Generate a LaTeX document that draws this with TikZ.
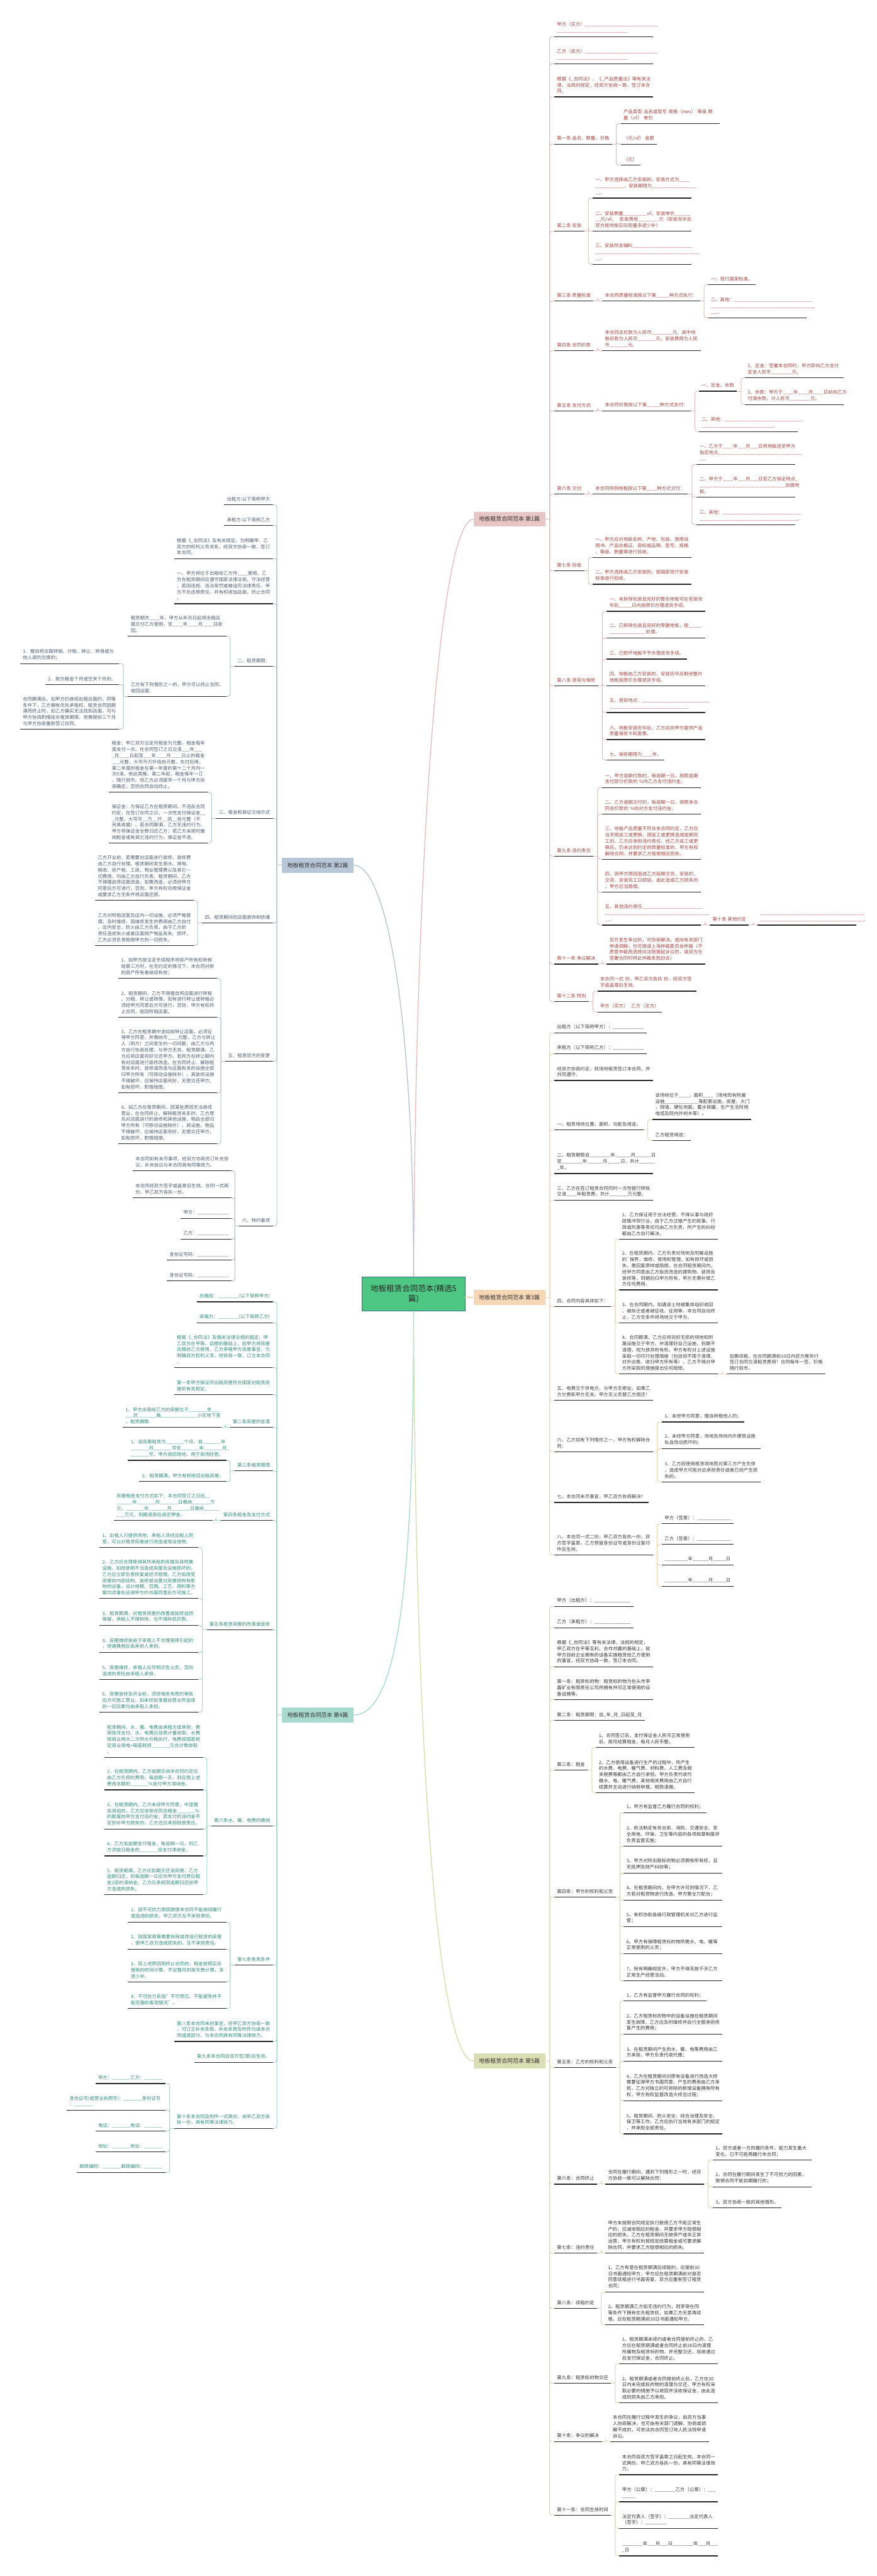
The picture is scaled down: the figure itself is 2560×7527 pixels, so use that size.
\documentclass[tikz,border=0pt]{standalone}
\usepackage{fontspec}
\setmainfont{Noto Sans CJK SC}

\definecolor{B1line}{HTML}{E5BABA}
\definecolor{B1fill}{HTML}{E9C6C6}
\definecolor{B1text}{HTML}{A2433D}
\definecolor{B2line}{HTML}{B3C2D3}
\definecolor{B2fill}{HTML}{B8C7D8}
\definecolor{B2text}{HTML}{4B5B6E}
\definecolor{B3line}{HTML}{F2D2AE}
\definecolor{B3fill}{HTML}{F6D7B5}
\definecolor{B3text}{HTML}{3C3C3C}
\definecolor{B4line}{HTML}{A3D7CA}
\definecolor{B4fill}{HTML}{A9DACE}
\definecolor{B4text}{HTML}{2F8A78}
\definecolor{B5line}{HTML}{D5DBAA}
\definecolor{B5fill}{HTML}{DADFB3}
\definecolor{B5text}{HTML}{333333}
\definecolor{RootFill}{HTML}{4FC784}
\definecolor{RootDraw}{HTML}{2E6D8E}

% a row of underscores (blank to be filled in)
\newcount\uscount
\newcommand\us[1]{\uscount=#1\relax\loop\ifnum\uscount>0 \textunderscore\advance\uscount by -1 \repeat}

\begin{document}
\begin{tikzpicture}
	[
		x=1pt, y=-1pt,
		conn/.style={draw=#1, line width=1.8pt, rounded corners=7pt},
		trunk/.style={draw=#1, line width=2.4pt},
	]
	
	\tikzstyle{Leaf} = [
		inner xsep=8pt,
		inner ysep=10pt,
		align=left,
		font=\fontsize{13.6}{18}\selectfont,
		append after command={(\tikzlastnode.south west) edge[draw=black!85, line width=2.2pt] (\tikzlastnode.south east)}
	]
	\tikzstyle{LeafR} = [Leaf, anchor=south west]
	\tikzstyle{LeafL} = [Leaf, anchor=south east]
	\tikzstyle{WideR} = [LeafR, text width=272pt]
	\tikzstyle{WideL} = [LeafL, text width=272pt]
	\tikzstyle{Part} = [
		rectangle,
		minimum width=210pt,
		minimum height=44pt,
		inner sep=0pt,
		text=black!80,
		font=\fontsize{16.5}{20}\selectfont
	]
	\tikzstyle{Root} = [
		rectangle,
		minimum width=300pt,
		minimum height=99pt,
		align=center,
		draw=RootDraw,
		line width=1.5pt,
		fill=RootFill,
		text=black!85,
		font=\fontsize{23}{30}\selectfont
	]
	
	\useasboundingbox (0,0) rectangle (2560,7527);
	\fill[white] (0,0) rectangle (2560,7527);
	
	% centre and the five parts
	\node [Root] (root) at (1208,3781) {地板租赁合同范本(精选5\\篇)};
	\node [Part, fill=B1fill] (p1) at (1488,1517) {地板租赁合同范本 第1篇};
	\node [Part, fill=B2fill] (p2) at (928,2528) {地板租赁合同范本 第2篇};
	\node [Part, fill=B3fill] (p3) at (1488,3791) {地板租赁合同范本 第3篇};
	\node [Part, fill=B4fill] (p4) at (928,5011) {地板租赁合同范本 第4篇};
	\node [Part, fill=B5fill] (p5) at (1488,6022) {地板租赁合同范本 第5篇};
	
	\draw[trunk=B1line] (root.north) .. controls (1215,2400) and (1290,1517) .. (p1.west);
	\draw[trunk=B2line] (root.north) .. controls (1208,2900) and (1120,2528) .. (p2.east);
	\draw[trunk=B3line] (root.east |- p3.west) -- (p3.west);
	\draw[trunk=B4line] (root.south) .. controls (1208,4500) and (1180,5011) .. (p4.east);
	\draw[trunk=B5line] (root.south) .. controls (1215,5300) and (1290,6022) .. (p5.west);
	
	% ---------------- part 1 ----------------
	\begin{scope}[text=B1text]
	\node [WideR] (b1a) at (1619,107) {甲方（买方）\us{28}\\\us{27}};
	\node [WideR] (b1b) at (1619,186) {乙方（卖方）\us{28}\\\us{27}};
	\node [WideR] (b1c) at (1619,283) {根据《\us{1}合同法》、《\us{1}产品质量法》等有关法\\律、法规的规定，经双方协商一致，签订本合\\同。};
	\node [LeafR] (b1d) at (1619,421) {第一条~品名、数量、价格};
	\node [WideR] (b1d1) at (1813,361) {产品类型~品名或型号~规格（mm）~等级~数\\量（㎡）~单价};
	\node [LeafR] (b1d2) at (1813,421) {（元/㎡）~金额};
	\node [LeafR] (b1d3) at (1813,483) {（元）};
	\node [LeafR] (b1e) at (1619,676) {第二条~安装};
	\node [WideR] (b1e1) at (1731,579) {一、甲方选择由乙方安装的，安装方式为\us{4}\\\us{11}，安装期限为\us{17}\\\us{2}.};
	\node [WideR] (b1e2) at (1731,676) {二、安装数量\us{9}㎡，安装单价\us{6}\\\us{2}元/㎡，~~安装费用\us{8}元（安装完毕后\\双方按地板实际用量多退少补）};
	\node [WideR] (b1e3) at (1731,772) {三、安装所含辅料\us{23}\\\us{40}\\\us{2}.};
	\node [LeafR] (b1f) at (1619,880) {第三条~质量标准};
	\node [LeafR] (b1f0) at (1759,880) {本合同质量标准按以下第\us{5}种方式执行：};
	\node [LeafR] (b1f1) at (2068,832) {一、现行国家标准。};
	\node [WideR] (b1f2) at (2068,929) {二、其他：\us{30}\\\us{40}\\\us{3}.};
	\node [LeafR] (b1g) at (1619,1025) {第四条~合同价款};
	\node [WideR] (b1g0) at (1759,1025) {本合同总价款为人民币\us{8}元，其中地\\板价款为人民币\us{7}元，安装费用为人民\\币\us{7}元。};
	\node [LeafR] (b1h) at (1619,1201) {第五条~支付方式};
	\node [LeafR] (b1h0) at (1759,1201) {本合同价款按以下第\us{5}种方式支付：};
	\node [LeafR] (b1h1) at (2041,1143) {一、定金、余款};
	\node [WideR] (b1h1a) at (2176,1104) {1、定金：签署本合同时，甲方即向乙方支付\\定金人民币\us{8}元。};
	\node [WideR] (b1h1b) at (2176,1182) {2、余款：甲方于\us{4}年\us{4}月\us{4}日前向乙方\\付清余款，计人民币\us{8}元。};
	\node [WideR] (b1h2) at (2041,1261) {二、其他：\us{30}\\\us{28}.};
	\node [LeafR] (b1i) at (1619,1444) {第六条~交付};
	\node [LeafR] (b1i0) at (1731,1444) {本合同所购地板按以下第\us{4}种方式交付：};
	\node [WideR] (b1i1) at (2035,1357) {一、乙方于\us{4}年\us{3}月\us{3}日将地板送至甲方\\指定地点\us{32}\\\us{2}.};
	\node [WideR] (b1i2) at (2035,1453) {二、甲方于\us{4}年\us{3}月\us{3}日至乙方指定地点\us{1}\\\us{33}自提地\\板。};
	\node [WideR] (b1i3) at (2035,1533) {三、其他：\us{30}\\\us{38}.};
	\node [LeafR] (b1j) at (1619,1668) {第七条~验收};
	\node [WideR] (b1j1) at (1731,1629) {一、甲方应对地板名称、产地、包装、使用说\\明书、产品合格证、商标或品牌、型号、规格\\、等级、数量等进行验收。};
	\node [WideR] (b1j2) at (1731,1707) {二、甲方选择由乙方安装的，按国家现行安装\\标准进行验收。};
	\node [LeafR] (b1k) at (1619,2004) {第八条~退货与保修};
	\node [WideR] (b1k1) at (1772,1786) {一、未拆除包装且完好的整包地板可在安装完\\毕后\us{5}日内按原价办理退货手续。};
	\node [WideR] (b1k2) at (1772,1864) {二、已拆除包装且完好的零散地板，按\us{5}\\\us{14}处理。};
	\node [LeafR] (b1k3) at (1772,1926) {三、已损坏地板不予办理退货手续。};
	\node [WideR] (b1k4) at (1772,2004) {四、地板由乙方安装的，安装完毕后剩余整片\\地板按原价办理退货手续。};
	\node [WideR] (b1k5) at (1772,2082) {五、退货地点：\us{26}\\\us{30}.};
	\node [WideR] (b1k6) at (1772,2161) {六、地板安装完毕后，乙方应向甲方提供产品\\质量保修卡和发票。};
	\node [LeafR] (b1k7) at (1772,2221) {七、保修期限为\us{4}年。};
	\node [LeafR] (b1l) at (1619,2502) {第九条~违约责任};
	\node [WideR] (b1l1) at (1759,2301) {一、甲方逾期付款的，每逾期一日，按照逾期\\支付部分价款的~\%向乙方支付违约金。};
	\node [WideR] (b1l2) at (1759,2379) {二、乙方逾期交付的，每逾期一日，按照本合\\同总价款的~\%向对方支付违约金。};
	\node [WideR] (b1l3) at (1759,2511) {三、地板产品质量不符合本合同约定，乙方应\\当无偿返工或更换，因返工或更换造成逾期完\\工的，乙方应承担违约责任。经乙方返工或更\\换后，仍未达到约定的质量标准的，甲方有权\\解除合同，并要求乙方赔偿相应损失。};
	\node [WideR] (b1l4) at (1759,2607) {四、因甲方原因造成乙方延期交货、安装的，\\交货、安装完工日顺延，由此造成乙方损失的\\，甲方应当赔偿。};
	\node [WideR] (b1l5) at (1759,2703) {五、其他违约责任\us{23}\\\us{40}\\\us{2}.};
	\node [LeafR] (b1m) at (2073,2703) {第十条~其他约定};
	\node [WideR] (b1m1) at (2212,2703) {\us{40}\\\us{40}.};
	\node [LeafR] (b1n) at (1619,2817) {第十一条~争议解决};
	\node [WideR] (b1n1) at (1772,2817) {双方发生争议的，可协商解决，或向有关部门\\申请调解；也可提请上海仲裁委员会仲裁（不\\愿意仲裁而选择向法院提起诉讼的，请双方在\\签署合同时将此仲裁条款划去）};
	\node [LeafR] (b1o) at (1619,2927) {第十二条~附则};
	\node [WideR] (b1o1) at (1745,2896) {本合同一式~份，甲乙双方各执~份，经双方签\\字或盖章后生效。};
	\node [LeafR] (b1o2) at (1745,2957) {甲方（买方）~~~乙方（买方）};
	\end{scope}
	
	\draw[conn=B1line] (p1.east) -- ++(12,0) coordinate (p1s);
	\foreach \ch in {b1a,b1b,b1c,b1d,b1e,b1f,b1g,b1h,b1i,b1j,b1k,b1l,b1n,b1o}
		\draw[conn=B1line] (p1s) |- (\ch.south west);
	\foreach \p/\kids in {b1d/{b1d1,b1d2,b1d3},b1e/{b1e1,b1e2,b1e3},
		b1f/{b1f0},b1f0/{b1f1,b1f2},b1g/{b1g0},
		b1h/{b1h0},b1h0/{b1h1,b1h2},b1h1/{b1h1a,b1h1b},
		b1i/{b1i0},b1i0/{b1i1,b1i2,b1i3},b1j/{b1j1,b1j2},
		b1k/{b1k1,b1k2,b1k3,b1k4,b1k5,b1k6,b1k7},
		b1l/{b1l1,b1l2,b1l3,b1l4,b1l5},b1l5/{b1m},b1m/{b1m1},
		b1n/{b1n1},b1o/{b1o1,b1o2}}
	{
		\draw[conn=B1line] (\p.south east) -- ++(12,0) coordinate (\p s);
		\foreach \ch in \kids
			\draw[conn=B1line] (\p s) |- (\ch.south west);
	}
	
	% ---------------- part 2 ----------------
	\begin{scope}[text=B2text]
	\node [LeafL] (b2a) at (797,1475) {出租方:以下简称甲方};
	\node [LeafL] (b2b) at (797,1535) {承租方:以下简称乙方};
	\node [WideL] (b2c) at (797,1632) {根据《\us{1}合同法》及有关规定，为明确甲、乙\\双方的权利义务关系，经双方协商一致，签订\\本合同。};
	\node [WideL] (b2d) at (797,1764) {一、甲方将位于出租给乙方作\us{4}使用。乙\\方在租赁期间应遵守国家法律法规，守法经营\\。若因违规、违法受罚或被追究法律责任，甲\\方不负连带责任，并有权收加店面，终止合同\\。};
	\node [LeafL] (b2e) at (797,1947) {二、租赁期限：};
	\node [WideL] (b2e1) at (662,1859) {租赁期共\us{4}年，甲方从年月日起将出租店\\面交付乙方使用，至\us{4}年\us{4}月\us{4}日收\\回。};
	\node [WideL] (b2e2) at (662,2035) {乙方有下列情形之一的，甲方可以终止合同，\\收回店面：};
	\node [WideL] (b2e2a) at (347,1939) {1．擅自将店面转租、分租、转让、转借或与\\他人调剂交换的；};
	\node [LeafL] (b2e2b) at (347,2000) {2．拖欠租金个月或空关个月的。};
	\node [WideL] (b2e2c) at (347,2131) {合同期满后，如甲方仍继续出租店面的，同等\\条件下，乙方拥有优先承租权。租赁合同因期\\满而终止时，如乙方确实无法找到店面，可与\\甲方协商酌情延长租赁期限，但需提前三个月\\与甲方协商重新签订合同。};
	\node [LeafL] (b2f) at (797,2391) {三、租金和保证交纳方式};
	\node [WideL] (b2f1) at (607,2315) {租金：甲乙双方议定月租金为元整，租金每年\\度支付一次。在合同签订之日交清\us{3}年\us{3}\\\us{1}月\us{4}日起至\us{3}年\us{4}月\us{4}日止的租金\\\us{3}元整，大写币万仟佰拾元整，先付后用。\\第二年度的租金在第一年度的第十二个月内一\\次X清，依此类推。第二年起，租金每年一订\\，随行就市。但乙方必须提早一个月与甲方协\\商确定，否则合同自动终止。};
	\node [WideL] (b2f2) at (607,2464) {保证金：为保证乙方在租赁期间，不违反合同\\约定，在签订合同之日，一次性支付保证金\us{2}\\\us{1}元整，大写币\us{2}万\us{2}仟\us{2}佰\us{2}拾元整（不\\另具收据）。若合同期满，乙方无违约行为，\\甲方将保证金全数归还乙方；若乙方未按时缴\\纳租金或有其它违约行为，保证金不退。};
	\node [LeafL] (b2g) at (797,2697) {四、租赁期间的店面装饰和修缮};
	\node [WideL] (b2g1) at (566,2631) {乙方开业前，若需要对店面进行装修，装修费\\由乙方自行处理。租赁期间发生用水、用电、\\税收、房产税、工商、物业管理费以及其它一\\切费用，均由乙方自行负责。租赁期间，乙方\\不得擅自将店面改造，如需改造，必须经甲方\\同意后方可进行，否则，甲方有权动用保证金\\或要求乙方无条件将店面还原。};
	\node [WideL] (b2g2) at (566,2763) {乙方对所租店面及店内一切设施，必须严格管\\理，及时维修，因维修发生的费用由乙方自付\\。店内安全、防火由乙方负责。由于乙方的\\责任造成失火或者店面财产物品丢失、损坏，\\乙方必须负责赔偿甲方的一切损失。};
	\node [LeafL] (b2h) at (797,3101) {五、租赁双方的变更};
	\node [WideL] (b2h1) at (634,2859) {1．如甲方按法定手续程序将房产所有权转移\\给第三方时，在无约定的情况下，本合同对新\\的房产所有者继续有效；};
	\node [WideL] (b2h2) at (634,2973) {2、租赁期间，乙方不得擅自将店面进行转租\\、分租、转让或转借，如有进行转让或转租必\\须经甲方同意后方可进行，否则，甲方有权终\\止合同，收回所租店面。};
	\node [WideL] (b2h3) at (634,3193) {3、乙方在租赁期中途如欲转让店面，必须征\\得甲方同意，并缴纳币\us{4}元整。乙方与转让\\人（丙方）之间发生的一切问题，由乙方与丙\\方自行协商处理，与甲方无关。租赁期满，乙\\方应将店面完好交还甲方。若丙方在转让期内\\有对店面进行装修改造，在合同终止、解除租\\赁关系时，装修或改造与店面有关的设施全部\\归甲方所有（可移动设施除外）。其装修设施\\不得破坏，应保持店面完好，无偿交还甲方，\\如有损坏，酌情赔偿。};
	\node [WideL] (b2h4) at (634,3342) {4、如乙方在租赁期间，因某些原因无法继续\\营业，在合同终止、解除租赁关系时，乙方原\\先对店面进行的装修和其他设施、物品全部归\\甲方所有（可移动设施除外），其设施、物品\\不得破坏，应保持店面完好，无偿交还甲方，\\如有损坏，酌情赔偿。};
	\node [LeafL] (b2i) at (797,3582) {六、特约事项};
	\node [WideL] (b2i1) at (676,3421) {本合同如有未尽事项，经双方协商另订补充协\\议，补充协议与本合同具有同等效力。};
	\node [WideL] (b2i2) at (676,3500) {本合同经双方签字或盖章后生效。合同一式两\\份，甲乙双方各执一份。};
	\node [LeafL] (b2i3) at (676,3560) {甲方：\us{12}};
	\node [LeafL] (b2i4) at (676,3621) {乙方：\us{12}};
	\node [LeafL] (b2i5) at (676,3682) {身份证号码：\us{12}};
	\node [LeafL] (b2i6) at (676,3743) {身份证号码：\us{12}};
	\end{scope}
	
	\draw[conn=B2line] (p2.west) -- ++(-14,0) coordinate (p2s);
	\foreach \ch in {b2a,b2b,b2c,b2d,b2e,b2f,b2g,b2h,b2i}
		\draw[conn=B2line] (p2s) |- (\ch.south east);
	\foreach \p/\kids in {b2e/{b2e1,b2e2},b2e2/{b2e2a,b2e2b,b2e2c},
		b2f/{b2f1,b2f2},b2g/{b2g1,b2g2},b2h/{b2h1,b2h2,b2h3,b2h4},
		b2i/{b2i1,b2i2,b2i3,b2i4,b2i5,b2i6}}
	{
		\draw[conn=B2line] (\p.south west) -- ++(-13,0) coordinate (\p s);
		\foreach \ch in \kids
			\draw[conn=B2line] (\p s) |- (\ch.south east);
	}
	
	% ---------------- part 3 ----------------
	\begin{scope}[text=B3text]
	\node [LeafR] (b3a) at (1619,3018) {出租方（以下简称甲方）：\us{12}};
	\node [LeafR] (b3b) at (1619,3079) {承租方（以下简称乙方）：\us{12}};
	\node [WideR] (b3c) at (1619,3157) {经双方协商约定，就场地租赁签订本合同，并\\共同遵守。};
	\node [LeafR] (b3d) at (1619,3302) {一、租赁场地位置，面积，功能及用途。};
	\node [WideR] (b3d1) at (1906,3271) {该场地位于\us{4}，面积\us{4}（场地现有附属\\设施\us{13}等配套设施，房屋，大门\\，院墙，硬化地面，蓄水铁罐，生产生活所用\\电缆及院内外树木等）。};
	\node [LeafR] (b3d2) at (1906,3332) {乙方租赁用途：};
	\node [WideR] (b3e) at (1619,3429) {二、租赁期限自\us{8}年\us{6}月\us{6}日\\至\us{8}年\us{6}月\us{5}日，共计\us{6}\\\us{1}年。};
	\node [WideR] (b3f) at (1619,3507) {三、乙方在签订租赁合同同时一次性银行转账\\交清\us{4}年租赁费，共计\us{7}万元整。};
	\node [LeafR] (b3g) at (1619,3818) {四、合同内容具体如下：};
	\node [WideR] (b3g1) at (1809,3621) {1、乙方保证用于合法经营，不得从事与政府\\政策冲突行业。由于乙方过错产生的民事、行\\政或刑事等责任均由乙方负责，所产生的纠纷\\都由乙方自行解决。};
	\node [WideR] (b3g2) at (1809,3769) {2、在租赁期内，乙方负责对场地及附属设施\\的\textasciigrave 保养，维修，使用和管理，如有损坏或损\\失，需回复原样或赔偿。在合同租赁期间内，\\经甲方同意由乙方投资改造的建筑物、装饰及\\装修等，到期后归甲方所有，甲方无需补偿乙\\方任何费用。};
	\node [WideR] (b3g3) at (1809,3866) {3、在合同期内，如遇该土地被集体组织收回\\、被拆迁或者被征收、征用等，本合同自动终\\止，乙方无条件将场地交于甲方。};
	\node [WideR] (b3g4) at (1809,4015) {4、合同期满，乙方应将完好无损的场地和附\\属设施交于甲方，并清理好自己设施，到期不\\清理，视为放弃所有权。甲方有权对上述设施\\采取一切可行处理措施（包括但不限于清理、\\对外出售、收归甲方所有等），乙方不得对甲\\方所采取的措施提出任何赔偿。};
	\node [WideR] (b3g5) at (2123,4015) {如需续租，在合同期满前10日内双方需另行\\签订合同交清租赁费用！合同每年一签，价格\\随行就市。};
	\node [WideR] (b3h) at (1619,4092) {五、电费交于供电方。与甲方无牵扯。如果乙\\方欠费和甲方无关。甲方无义务替乙方偿还！};
	\node [WideR] (b3i) at (1619,4242) {六、乙方如有下列情形之一，甲方有权解除合\\同：};
	\node [LeafR] (b3i1) at (1933,4155) {1、未经甲方同意，擅自转租他人的；};
	\node [WideR] (b3i2) at (1933,4233) {2、未经甲方同意，场地及场地内外建筑设施\\私自改动损坏的；};
	\node [WideR] (b3i3) at (1933,4330) {3、乙方因使用租赁场地而对第三方产生负债\\，造成甲方可能对此承担责任或者已经产生损\\失的。};
	\node [LeafR] (b3j) at (1619,4390) {七、本合同未尽事宜，甲乙双方协商解决！};
	\node [WideR] (b3k) at (1619,4543) {八、本合同一式二份。甲乙双方各执一份，双\\方签字盖章，乙方预留身份证号或身份证复印\\件后生效。};
	\node [LeafR] (b3k1) at (1933,4452) {甲方（签章）：\us{13}};
	\node [LeafR] (b3k2) at (1933,4513) {乙方（签章）：\us{13}};
	\node [LeafR] (b3k3) at (1933,4573) {\us{9}年\us{6}月\us{5}日};
	\node [LeafR] (b3k4) at (1933,4635) {\us{9}年\us{6}月\us{5}日};
	\end{scope}
	
	\draw[conn=B3line] (p3.east) -- ++(12,0) coordinate (p3s);
	\foreach \ch in {b3a,b3b,b3c,b3d,b3e,b3f,b3g,b3h,b3i,b3j,b3k}
		\draw[conn=B3line] (p3s) |- (\ch.south west);
	\foreach \p/\kids in {b3d/{b3d1,b3d2},b3g/{b3g1,b3g2,b3g3,b3g4},b3g4/{b3g5},
		b3i/{b3i1,b3i2,b3i3},b3k/{b3k1,b3k2,b3k3,b3k4}}
	{
		\draw[conn=B3line] (\p.south east) -- ++(12,0) coordinate (\p s);
		\foreach \ch in \kids
			\draw[conn=B3line] (\p s) |- (\ch.south west);
	}
	
	% ---------------- part 4 ----------------
	\begin{scope}[text=B4text]
	\node [LeafL] (b4a) at (797,3804) {出租房：\us{8}(以下简称甲方)};
	\node [LeafL] (b4b) at (797,3865) {承租方：\us{8}(以下简称乙方)};
	\node [WideL] (b4c) at (797,3996) {根据《\us{1}合同法》及相关法律法规的固定，甲\\乙双方在平等、自愿的基础上，就甲方将房屋\\出租给乙方使用，乙方承租甲方房屋事宜，为\\明确双方权利义务，经协商一致，订立本合同\\。};
	\node [WideL] (b4d) at (797,4075) {第一条甲方保证所出租房屋符合国家对租赁房\\屋的有关规定。};
	\node [LeafL] (b4e) at (797,4171) {第二条房屋的坐落};
	\node [WideL] (b4e1) at (647,4171) {1、甲方出租给乙方的房屋位于\us{7}市\us{3}\\\us{3}区\us{7}路\us{14}小区地下室\\。租赁期限};
	\node [LeafL] (b4f) at (797,4298) {第三条租赁期限};
	\node [WideL] (b4f1) at (662,4267) {1、该房屋租赁为\us{7}个月，自\us{7}年\\\us{7}月\us{7}号至\us{7}年\us{7}月\us{1}\\\us{7}号，甲方收回场地，用于商场经营。};
	\node [LeafL] (b4f2) at (662,4329) {2、租赁期满，甲方有权收回出租房屋。};
	\node [LeafL] (b4g) at (797,4443) {第四条租金及支付方式};
	\node [WideL] (b4g1) at (621,4443) {房屋租金支付方式如下：本合同签订之日后\us{2}\\\us{6}年\us{7}月\us{7}日缴纳\us{7}万\\元，\us{7}年\us{7}月\us{7}日缴纳\us{6}\\\us{3}万元，到期退房后退还押金。};
	\node [LeafL] (b4h) at (797,4762) {第五条租赁房屋的改善或装修};
	\node [WideL] (b4h1) at (579,4522) {1、出租人只提供场地，承租人须经出租人同\\意，可以对租赁房屋进行改造或增设他物。};
	\node [WideL] (b4h2) at (579,4671) {2、乙方应合理使用其所承租的房屋及其附属\\设施，如因使用不当造成房屋及设施损坏的，\\乙方应立即负责修复或经济赔偿。乙方如改变\\房屋的内部结构、装修或设置对房屋结构有影\\响的设备，设计规模、范围、工艺、用料等方\\案均须事先征得甲方的书面同意后方可施工。};
	\node [WideL] (b4h3) at (579,4749) {3、租赁期满，对租赁房屋的改善或装修自然\\保留，承租人不得拆除，也不得拆抵价款。};
	\node [WideL] (b4h4) at (579,4828) {4、房屋维修是由于承租人不合理使用引起的\\，修缮费用应由承担人承担。};
	\node [WideL] (b4h5) at (579,4907) {5、房屋维修，承租人应尽明示告义务，否则\\造成的责任由承租人承担。};
	\node [WideL] (b4h6) at (579,5003) {6、房屋装修及开业前，须经相关布恩的审批\\后方可施工营业。如未经批准擅自营业所造成\\的一切后果均由承租人承担。};
	\node [LeafL] (b4i) at (797,5336) {第六条水、暖、电费的缴纳};
	\node [WideL] (b4i1) at (593,5135) {租赁期间，水、暖、电费由承租方成承担，费\\用按月支付、水、电费应挂表计量收取，水费\\按商业用水二次供水价格执行，电费按国家规\\定商业用电+每度耗损\us{7}元合计数收取\\。};
	\node [WideL] (b4i2) at (593,5230) {2、在租赁期内，乙方逾期交纳本合同约定应\\由乙方负担的费用，每逾期一天，则应按上述\\费用总额的\us{7}\%支付甲方滞纳金。};
	\node [WideL] (b4i3) at (593,5344) {3、在租赁期内，乙方未经甲方同意，中途擅\\自退组的，乙方应该按合同总租金\us{7}\%\\的额度向甲方支付违约金，若支付的违约金不\\足弥补甲方损失的，乙方还应承担赔偿责任。};
	\node [WideL] (b4i4) at (593,5423) {4、乙方如逾期支付租金，每逾期一日，则乙\\方须按日租金的\us{7}倍支付滞纳金。};
	\node [WideL] (b4i5) at (593,5536) {5、租赁期满，乙方应如期交还该房屋，乙方\\逾期归还，则每逾期一日应向甲方支付原日租\\金2倍的滞纳金，乙方应承担因逾期归还给甲\\方造成的损失。};
	\node [LeafL] (b4j) at (797,5742) {第七条免责条件};
	\node [WideL] (b4j1) at (662,5616) {1、因不可抗力原因致使本合同不能继续履行\\或造成的损失，甲乙双方互不承担责任。};
	\node [WideL] (b4j2) at (662,5695) {2、因国家政策需要拆除或改造已租赁的房屋\\，使甲乙双方造成损失的，互不承担责任。};
	\node [WideL] (b4j3) at (662,5791) {3、因上述原因而终止合同的，租金按照实际\\使用的时间计算，不足整月的按天数计算，多\\退少补。};
	\node [WideL] (b4j4) at (662,5869) {4、不可抗力系指"不可预见、不能避免并不\\能克服的客观情况"。};
	\node [WideL] (b4k) at (797,5965) {第八条本合同未经事宜，经甲乙双方协商一致\\，可订立补充条款，补充条款及附件均诶本合\\同组成部分，与本合同具有同等法律效力。};
	\node [LeafL] (b4l) at (797,6026) {第九条本合同自双方签(章)后生效。};
	\node [WideL] (b4m) at (797,6219) {第十条本合同及附件一式两份，由甲乙双方各\\执一份，具有同等法律效力。};
	\node [LeafL] (b4m1) at (483,6088) {甲方：\us{7}乙方：\us{7}};
	\node [WideL] (b4m2) at (483,6166) {身份证号(或营业执照号)：\us{7}身份证号\\：\us{7}};
	\node [LeafL] (b4m3) at (483,6227) {电话：\us{7}电话：\us{7}};
	\node [LeafL] (b4m4) at (483,6288) {地址：\us{7}地址：\us{7}};
	\node [LeafL] (b4m5) at (483,6348) {邮政编码：\us{7}邮政编码：\us{7}};
	\end{scope}
	
	\draw[conn=B4line] (p4.west) -- ++(-14,0) coordinate (p4s);
	\foreach \ch in {b4a,b4b,b4c,b4d,b4e,b4f,b4g,b4h,b4i,b4j,b4k,b4l,b4m}
		\draw[conn=B4line] (p4s) |- (\ch.south east);
	\foreach \p/\kids in {b4e/{b4e1},b4f/{b4f1,b4f2},b4g/{b4g1},
		b4h/{b4h1,b4h2,b4h3,b4h4,b4h5,b4h6},b4i/{b4i1,b4i2,b4i3,b4i4,b4i5},
		b4j/{b4j1,b4j2,b4j3,b4j4},b4m/{b4m1,b4m2,b4m3,b4m4,b4m5}}
	{
		\draw[conn=B4line] (\p.south west) -- ++(-13,0) coordinate (\p s);
		\foreach \ch in \kids
			\draw[conn=B4line] (\p s) |- (\ch.south east);
	}
	
	% ---------------- part 5 ----------------
	\begin{scope}[text=B5text]
	\node [LeafR] (b5a) at (1619,4694) {甲方（出租方）：\us{14}};
	\node [LeafR] (b5b) at (1619,4756) {乙方（承租方）：\us{14}};
	\node [WideR] (b5c) at (1619,4870) {根据《\us{1}合同法》等有关法律、法规的规定，\\甲乙双方在平等互利、合作共赢的基础上，就\\甲方目前企业拥有的设备实施租赁给乙方使用\\的事宜，经双方协商一致，签订本合同。};
	\node [WideR] (b5d) at (1619,4966) {第一条：租赁标的物：租赁标的物为包头市李\\鑫矿业有限责任公司所拥有并可正常使用的设\\备设施等。};
	\node [LeafR] (b5e) at (1619,5027) {第二条：租赁期限：自\us{1}年\us{1}月\us{1}日起至\us{1}月};
	\node [LeafR] (b5f) at (1619,5172) {第三条：租金};
	\node [WideR] (b5f1) at (1741,5106) {1。合同签订后，支付保证金人民币正常使用\\后，按月结算租金，每月人民币整。};
	\node [WideR] (b5f2) at (1741,5238) {2。乙方使用设备进行生产的过程中，所产生\\的水费、电费、暖气费、材料费、人工费及相\\关税费等都由乙方自行承担。甲方负责代收代\\缴水、电、暖气费，其他相关费用由乙方自行\\结算并主动进行纳税申报、税款清缴。};
	\node [LeafR] (b5g) at (1619,5543) {第四条：甲方的权利和义务};
	\node [LeafR] (b5g1) at (1822,5297) {1。甲方有监督乙方履行合同的权利；};
	\node [WideR] (b5g2) at (1822,5395) {2。依法制定有关治安、消防、交通安全、安\\全用电、环保、卫生等内容的各项规章制度并\\负责监督实施；};
	\node [WideR] (b5g3) at (1822,5473) {3。甲方对所出租标的物必须拥有所有权，且\\无抵押及财产纠纷等；};
	\node [WideR] (b5g4) at (1822,5552) {4。在租赁期间内，在甲方许可的情况下，乙\\方若对租赁物进行改造，甲方需全力配合；};
	\node [WideR] (b5g5) at (1822,5630) {5。有权协助各级行政管理机关对乙方进行监\\督；};
	\node [WideR] (b5g6) at (1822,5709) {6。甲方有保障租赁标的物所需水、电、暖等\\正常使用的义务；};
	\node [WideR] (b5g7) at (1822,5788) {7。除有明确规定外，甲方不得无故干涉乙方\\正常生产经营活动。};
	\node [LeafR] (b5h) at (1619,6041) {第五条：乙方的权利和义务};
	\node [LeafR] (b5h1) at (1822,5847) {1。乙方有监督甲方履行合同的权利；};
	\node [WideR] (b5h2) at (1822,5944) {2。乙方租赁标的物中的设备设施在租赁期间\\发生故障，乙方应及时维修并自行全额承担修\\复产生的费用；};
	\node [WideR] (b5h3) at (1822,6023) {3。在租赁期间产生的水、暖、电等费用由乙\\方承担，甲方负责代收代缴；};
	\node [WideR] (b5h4) at (1822,6138) {4。乙方在租赁期间对原有设备进行改造大修\\需要征得甲方书面同意，产生的费用由乙方承\\担，乙方对独立的可拆除的新增设备拥有所有\\权，甲方有权监督改造大修全过程；};
	\node [WideR] (b5h5) at (1822,6235) {5。租赁期间，防火安全、综合治理及安全、\\保卫等工作，乙方应执行当地有关部门的规定\\，并承担全部责任。};
	\node [LeafR] (b5i) at (1619,6382) {第六条：合同终止};
	\node [WideR] (b5i0) at (1768,6382) {合同在履行期间，遇到下列情形之一时，经双\\方协商一致可以解除合同：};
	\node [WideR] (b5i1) at (2082,6312) {1。双方或者一方的履约条件、能力发生重大\\变化，已不可能再履行本合同；};
	\node [WideR] (b5i2) at (2082,6390) {2。合同在履行期间发生了不可抗力的因素，\\致使合同不能如期履行的；};
	\node [LeafR] (b5i3) at (2082,6451) {3。双方协商一致的其他情形。};
	\node [LeafR] (b5j) at (1619,6584) {第七条：违约责任};
	\node [WideR] (b5j0) at (1768,6584) {甲方未按照合同规定执行致使乙方不能正常生\\产的，应减收相应的租金，并要求甲方赔偿相\\应的损失。乙方在租赁期间无故停产或非正常\\运营，甲方有权利按规定结算租金或可要求解\\除合同，并要求乙方赔偿相应的损失。};
	\node [LeafR] (b5k) at (1619,6745) {第八条：续租约定};
	\node [WideR] (b5k1) at (1768,6697) {1。乙方有意在租赁期满后续租的，应提前30\\日书面通知甲方，甲方应在租赁期满前对是否\\同意续租进行书面答复，双方应重新签订租赁\\合同；};
	\node [WideR] (b5k2) at (1768,6793) {2。租赁期满乙方如无违约行为，则享受在同\\等条件下拥有优先租赁权，如果乙方无意再续\\租，应在租赁期满前30日书面通知甲方。};
	\node [LeafR] (b5l) at (1619,6964) {第九条：租赁标的物交还};
	\node [WideR] (b5l1) at (1809,6907) {1。租赁期满未续约或者合同提前终止的，乙\\方应在租赁期满或者合同终止前30日内清理\\所属物及租赁标的物，并完整交还，验收通过\\后支付保证金，合同终止。};
	\node [WideR] (b5l2) at (1809,7021) {2。租赁期满或者合同提前终止后，乙方在30\\日内未完成标的物的清理与交还，甲方有权采\\取必要的措施予以收回并没收保证金，由此造\\成的损失由乙方承担。};
	\node [LeafR] (b5m) at (1619,7134) {第十条：争议的解决};
	\node [WideR] (b5m0) at (1782,7134) {本合同在履行过程中发生的争议，由双方当事\\人协商解决，也可由有关部门调解，协商或调\\解不成的，可依法向合同签订地人民法院申请\\诉讼。};
	\node [LeafR] (b5n) at (1619,7349) {第十一条：合同生效时间};
	\node [WideR] (b5n1) at (1809,7231) {本合同自双方签字盖章之日起生效。本合同一\\式两份，甲乙双方各执一份，具有同等法律效\\力。};
	\node [WideR] (b5n2) at (1809,7310) {甲方（公章）：\us{8}乙方（公章）：\us{3}\\\us{5}};
	\node [WideR] (b5n3) at (1809,7388) {法定代表人（签字）：\us{8}法定代表人\\（签字）：\us{8}};
	\node [WideR] (b5n4) at (1809,7468) {\us{8}年\us{3}月\us{3}日\us{8}年\us{3}月\us{3}\\\us{1}日};
	\end{scope}
	
	\draw[conn=B5line] (p5.east) -- ++(12,0) coordinate (p5s);
	\foreach \ch in {b5a,b5b,b5c,b5d,b5e,b5f,b5g,b5h,b5i,b5j,b5k,b5l,b5m,b5n}
		\draw[conn=B5line] (p5s) |- (\ch.south west);
	\foreach \p/\kids in {b5f/{b5f1,b5f2},b5g/{b5g1,b5g2,b5g3,b5g4,b5g5,b5g6,b5g7},
		b5h/{b5h1,b5h2,b5h3,b5h4,b5h5},b5i/{b5i0},b5i0/{b5i1,b5i2,b5i3},
		b5j/{b5j0},b5k/{b5k1,b5k2},b5l/{b5l1,b5l2},b5m/{b5m0},
		b5n/{b5n1,b5n2,b5n3,b5n4}}
	{
		\draw[conn=B5line] (\p.south east) -- ++(12,0) coordinate (\p s);
		\foreach \ch in \kids
			\draw[conn=B5line] (\p s) |- (\ch.south west);
	}
\end{tikzpicture}
\end{document}
